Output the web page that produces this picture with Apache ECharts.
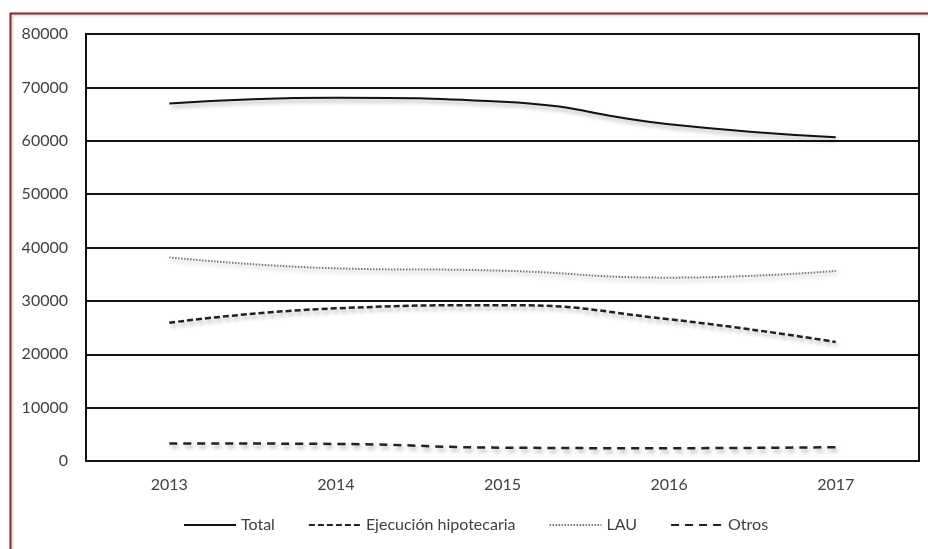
<!DOCTYPE html>
<html>
<head>
<meta charset="utf-8">
<script src="https://cdn.jsdelivr.net/npm/echarts@6/dist/echarts.min.js"></script>
<style>
  html, body { margin: 0; padding: 0; background: #ffffff; }
  #chart { width: 928px; height: 549px; }
</style>
</head>
<body>
<div id="chart"></div>
<script>
// Years on the horizontal axis
const years = ['2013', '2014', '2015', '2016', '2017'];

// Series values per year
const total = [67000, 68050, 67300, 63100, 60650];
const ejecucion = [25900, 28600, 29200, 26550, 22300];
const lau = [38150, 36100, 35650, 34350, 35600];
const otros = [3300, 3200, 2500, 2400, 2600];

const FONT = 'Lato, "Open Sans", sans-serif';
const TEXT = '#404040';

function lineSeries(name, data, type, width, color) {
  return {
    name: name,
    type: 'line',
    data: data,
    smooth: true,
    symbol: 'none',
    lineStyle: {
      color: color,
      width: width,
      type: type,
      shadowColor: 'rgba(0,0,0,0.35)',
      shadowBlur: 4,
      shadowOffsetX: 2,
      shadowOffsetY: 3
    },
    itemStyle: { color: color }
  };
}

const chart = echarts.init(document.getElementById('chart'), null, { renderer: 'canvas' });

chart.setOption({
  backgroundColor: '#ffffff',
  animation: false,
  textStyle: { fontFamily: FONT },
  graphic: [{
    type: 'rect',
    left: 8,
    top: 11,
    shape: { width: 1000, height: 1000 },
    style: {
      fill: 'none',
      stroke: '#8a2b2b',
      lineWidth: 2,
      shadowColor: 'rgba(0,0,0,0.25)',
      shadowBlur: 3,
      shadowOffsetX: 1,
      shadowOffsetY: 1
    },
    z: 0
  }],
  grid: {
    left: 86,
    right: 9,
    top: 34,
    bottom: 88,
    show: true,
    borderColor: '#111111',
    borderWidth: 2,
    containLabel: false
  },
  legend: {
    top: 517,
    left: 183,
    padding: 0,
    itemWidth: 52,
    itemHeight: 14,
    itemGap: 33,
    itemStyle: { opacity: 0 },
    textStyle: { color: TEXT, fontFamily: FONT, fontSize: 16 },
    data: ['Total', 'Ejecución hipotecaria', 'LAU', 'Otros']
  },
  xAxis: {
    type: 'category',
    data: years,
    boundaryGap: true,
    axisLine: { show: false },
    axisTick: { show: false },
    axisLabel: { color: TEXT, fontFamily: FONT, fontSize: 16, margin: 16 },
    splitLine: { show: false }
  },
  yAxis: {
    type: 'value',
    min: 0,
    max: 80000,
    interval: 10000,
    axisLine: { show: false },
    axisTick: { show: false },
    axisLabel: {
      color: TEXT,
      fontFamily: FONT,
      fontSize: 16,
      margin: 18,
      formatter: function (v) { return String(v); }
    },
    splitLine: { show: true, lineStyle: { color: '#111111', width: 2 } }
  },
  series: [
    lineSeries('Total', total, 'solid', 2, '#111111'),
    lineSeries('Ejecución hipotecaria', ejecucion, [6, 3], 2.5, '#222222'),
    lineSeries('LAU', lau, [1.5, 1.5], 2, '#777777'),
    lineSeries('Otros', otros, [8, 6], 2.5, '#222222')
  ]
});
</script>
</body>
</html>
